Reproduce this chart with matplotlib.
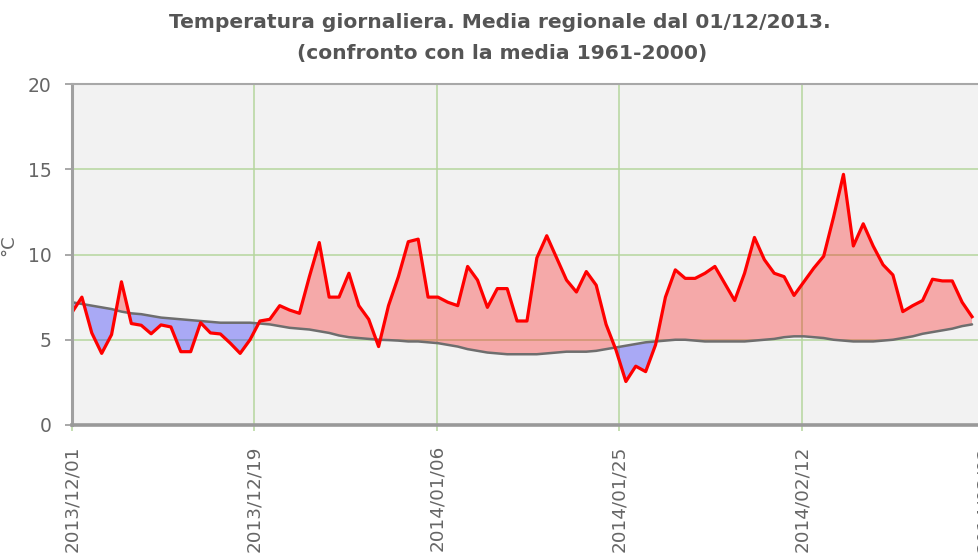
import matplotlib
matplotlib.use('Agg')
import matplotlib.pyplot as plt
import numpy as np

# Daily regional temperature from 2013/12/01 (92 days)
temperatura = [6.6, 7.5, 5.4, 4.2, 5.3, 8.4, 5.95, 5.85, 5.35, 5.87,
	5.75, 4.3, 4.3, 6.0, 5.4, 5.34, 4.8, 4.2, 5.0, 6.1,
	6.2, 7.0, 6.74, 6.55, 8.7, 10.7, 7.5, 7.5, 8.9, 7.0,
	6.2, 4.6, 7.0, 8.7, 10.75, 10.9, 7.5, 7.5, 7.2, 7.0,
	9.3, 8.5, 6.9, 8.0, 8.0, 6.1, 6.1, 9.8, 11.1, 9.8,
	8.5, 7.8, 9.0, 8.2, 5.9, 4.4, 2.55, 3.45, 3.13, 4.7,
	7.5, 9.1, 8.6, 8.6, 8.9, 9.3, 8.3, 7.3, 8.9, 11.0,
	9.7, 8.9, 8.7, 7.6, 8.4, 9.2, 9.9, 12.2, 14.7, 10.5,
	11.8, 10.5, 9.4, 8.8, 6.65, 7.0, 7.3, 8.55, 8.45, 8.45,
	7.2, 6.35]

# Climatological mean 1961-2000 for the same days
media = [7.2, 7.1, 7.0, 6.9, 6.8, 6.65, 6.55, 6.5, 6.4, 6.3,
	6.25, 6.2, 6.15, 6.1, 6.05, 6.0, 6.0, 6.0, 6.0, 5.95,
	5.9, 5.8, 5.7, 5.65, 5.6, 5.5, 5.4, 5.25, 5.15, 5.1,
	5.05, 5.0, 4.98, 4.95, 4.9, 4.9, 4.85, 4.8, 4.7, 4.6,
	4.45, 4.35, 4.25, 4.2, 4.15, 4.15, 4.15, 4.15, 4.2, 4.25,
	4.3, 4.3, 4.3, 4.35, 4.45, 4.55, 4.65, 4.75, 4.85, 4.9,
	4.95, 5.0, 5.0, 4.95, 4.9, 4.9, 4.9, 4.9, 4.9, 4.95,
	5.0, 5.05, 5.15, 5.2, 5.2, 5.15, 5.1, 5.0, 4.95, 4.9,
	4.9, 4.9, 4.95, 5.0, 5.1, 5.2, 5.35, 5.45, 5.55, 5.65,
	5.8, 5.9]

etichette = ["2013/12/01", "2013/12/19", "2014/01/06", "2014/01/25", "2014/02/12", "2014/03/02"]
y_ticks = [0, 5, 10, 15, 20]

giorni = np.arange(len(temperatura))
t = np.array(temperatura)
m = np.array(media)

fig = plt.figure(figsize=(9.79, 5.53), dpi=100)
ax = fig.add_axes([72 / 979, 1 - 425 / 553, 912.4 / 979, 341 / 553])
ax.set_facecolor('#f2f2f2')

# Grid in light green, under the fills
x_fine = 92.25
x_ticks = np.linspace(0, x_fine, len(etichette))
ax.set_xlim(0, x_fine)
ax.set_ylim(0, 20)
ax.set_xticks(x_ticks)
ax.set_xticklabels(etichette, rotation=90)
ax.set_yticks(y_ticks)
ax.grid(True, color='#b5d69e', linewidth=1.1)
ax.set_axisbelow(True)

# Anomaly areas: warmer red, colder blue
ax.fill_between(giorni, t, m, where=t >= m, interpolate=True, color='red', alpha=0.3, linewidth=0)
ax.fill_between(giorni, t, m, where=t < m, interpolate=True, color='blue', alpha=0.3, linewidth=0)
ax.plot(giorni, m, color='#6e6e6e', linewidth=1.8, solid_capstyle='round')
ax.plot(giorni, t, color='red', linewidth=2.3, solid_joinstyle='round')

ax.spines['right'].set_visible(False)
ax.spines['top'].set_color('#a8a8a8')
ax.spines['top'].set_linewidth(1.5)
ax.spines['left'].set_color('#a0a0a0')
ax.spines['left'].set_linewidth(2.2)
ax.spines['bottom'].set_color('#999999')
ax.spines['bottom'].set_linewidth(2.6)

ax.tick_params(axis='y', colors='#999999', length=5, width=1.2, pad=9.5, labelsize=13.5, labelcolor='#666666')
ax.tick_params(axis='x', colors='#b5d69e', length=4.5, width=1.1, pad=10, labelsize=13.2, labelcolor='#666666')

fig.text(8 / 979, 1 - 245 / 553, "°C", rotation=90, ha='center', va='center', fontsize=13, color='#666666')

# Title, two lines
fig.text(500 / 979, 1 - 22 / 553, "Temperatura giornaliera. Media regionale dal 01/12/2013.",
	ha='center', va='center', fontsize=14.6, fontweight='bold', color='#555555')
fig.text(502 / 979, 1 - 54 / 553, "(confronto con la media 1961-2000)",
	ha='center', va='center', fontsize=14.6, fontweight='bold', color='#555555')

fig.savefig("out.png", dpi=100)
